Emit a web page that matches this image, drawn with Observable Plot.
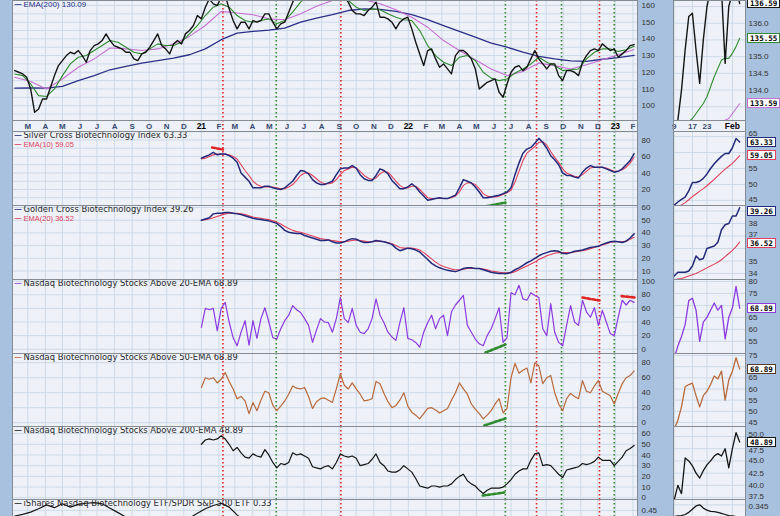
<!DOCTYPE html>
<html><head><meta charset="utf-8">
<script src="https://cdn.jsdelivr.net/npm/d3@7"></script>
<script src="https://cdn.jsdelivr.net/npm/@observablehq/plot@0.6"></script>
<style>
html,body{margin:0;padding:0;background:#a7c1de;}
#chart{position:relative;width:780px;height:516px;overflow:hidden;background:#a7c1de;}
#chart svg{position:absolute;overflow:visible;}
.badge{position:absolute;left:747px;height:8px;line-height:8px;padding:0 2px;background:#fff;border:1px solid #000;font:bold 7.6px "DejaVu Sans Mono",monospace;color:#000;white-space:nowrap;}
</style></head><body><div id="chart"></div>
<script>
// ---------- DATA ----------
const priceStart = "2020-02-07"; // weekly closes
const priceWeekly = [121,120,119,117,110,96,98,104,104,111,
118,124,127,130,132,131,133,130,126,133,
136,137,139,143,139,136,135,134,132,132,
128,127,131,132,135,139,143,136,134,131,
137,139,137,143,145,148,154,152,159,164,
161,160,165,166,158,151,146,150,150,146,
151,150,151,155,155,150,146,149,150,156,
162,166,168,167,170,168,171,170,172,168,
170,166,164,165,162,157,155,155,154,157,
159,162,153,153,152,150,146,150,152,153,
146,138,131,124,133,134,128,123,125,122,
119,130,133,133,131,128,122,110,112,114,
115,116,108,105,113,120,123,124,121,123,
128,133,128,125,122,125,125,118,115,121,
121,120,118,126,130,133,134,133,137,135,
133,134,129,131,133,136,136.6];
const ema20Biweekly = [119,118,113,106,105.5,110,118,125,129,130,
133,136,139,138,135,132,131,134,137,136,
136,138,143,148,154,159,161,159,154,151,
150,151,152,149,151,156,162,166,168,169,
168,166,163,159,157,158,157.5,155,153,151.5,
151,145,136,130,126,124,129,130,127,120,
116.5,115,116,119.5,122,125,129,126,124,121,
121.5,122,128,132,134,134,132.5,133.5,135.55];
const ema50Every4w = [117,114.5,110,116,123,128,134.5,134,133,134,
137,141.5,148,156.5,155.5,154.5,152,151.5,155,159.5,
163,165,163.5,161,157.5,153,147,139,133,127.5,
122,118,120.5,125.5,124,122,124.5,127.5,130.5,133.59];
const ema200Every4w = [110.5,110.7,110.5,111.5,115,118,121.5,123.5,125.5,127,
128.5,130.5,134,139.5,143.5,144.5,145.2,146.5,150,152.5,
154.5,157,158,157.7,156.5,154.5,151.5,148,144.5,141,
137.5,135,132,129.5,128,126.8,126.5,127.8,128.8,130.09];
const ratioBiweekly = [0.44,0.443,0.447,0.453,0.46,0.455,0.462,0.456,0.461,0.463,
0.464,0.462,0.454,0.446,0.438,0.432,0.428,0.43,0.434,0.432,
0.43,0.431,0.436,0.445,0.453,0.459,0.463,0.456,0.442,0.43,
0.425,0.42,0.418,0.42,0.415,0.41,0.412,0.415,0.41,0.405,
0.4,0.398,0.395,0.39,0.385,0.375,0.37,0.365,0.36,0.355,
0.35,0.345,0.34,0.335,0.33,0.328,0.33,0.335,0.34,0.345,
0.35,0.355,0.355,0.35,0.345,0.345,0.35,0.345,0.34,0.34,
0.345,0.35,0.35,0.345,0.342,0.34,0.335,0.332,0.33];

const indStart = "2021-01-01"; // weekly breadth / cross indexes
const silverCross = [58,60,62,65,62,63,63,61,58,53,
40,35,30,22,22,22,24,24,22,21,
20,22,26,30,37,43,42,39,32,28,
26,26,28,30,38,45,46,46,49,46,
38,33,31,31,37,45,43,39,31,26,
21,21,23,27,23,17,12,7,8,9,
10,9,9,11,13,22,32,30,28,23,
17,10,10,11,12,13,15,17,22,38,
52,64,69,71,76,82,77,70,61,56,
50,40,37,37,35,34,41,46,49,47,
47,47,45,43,41,42,45,50,55,63.33];
const silverEma10 = [57,58,60,62,63,63,63,62,60,57,
50,43,37,30,26,24,23,23,23,22,
21,21,23,26,31,37,40,40,37,33,
29,27,27,28,32,38,43,45,47,46,
42,37,34,32,34,39,42,41,36,30,
25,22,22,24,24,20,15,10,9,9,
9,9,9,10,12,17,25,28,28,26,
21,15,12,11,11,12,14,16,19,29,
42,55,64,68,72,77,78,74,66,59,
53,45,40,38,36,35,38,42,46,47,
47,47,46,44,42,42,44,47,52,59.05];
const goldenCross = [50,51,52,55,55.5,55.5,56,56,55.5,55,
54.5,53.5,52.5,51.5,51,50.5,50,49.5,48.5,47.5,
45,42,40.5,40,39.5,39.5,38,37,36,35,
34,34,34.5,33,32,32,33,34.5,35.5,35,
33.5,32.5,32.5,33,34,33.5,33,32,31,28,
26,27,28,27.5,26.5,25,22,19,16,14,
12.5,11.5,10.5,10,9.5,10.5,12,12.5,12.5,12,
12,11,10,9,8.5,8,8,8,9,11,
12.5,14.5,16.5,18,20,22,23.5,24.5,25.5,26,
25.5,24,23.5,24.5,25.5,26,26.5,27.5,28.5,29,
29.5,31,32,33,33.5,33,32.5,33.5,36,39.26];
const goldenEma20 = [50,50.5,51,52,53,54,55,55.5,55.5,55.5,
55,54.5,53.5,52.5,52,51.5,51,50.5,49.5,48.5,
47,45,43.5,42,41,40.5,39.5,38.5,37.5,36.5,
35.5,35,34.5,34,33.5,33,33,33.5,34,34.5,
34,33.5,33,33,33.5,33.5,33,32.5,31.5,30,
28.5,28,28,28,27.5,26.5,24.5,22,19.5,17,
15,13.5,12.5,11.5,11,11,11.5,12,12,12,
12,11.5,11,10,9.5,9,8.5,8.5,8.5,9.5,
11,12.5,14,15.5,17,19,20.5,22,23,24,
24.5,24.5,24.5,24.5,25,25.5,26,26.5,27.5,28.5,
29.5,30.5,31.5,32.5,33,33,33,33.5,35,36.52];
const above20 = [32,60,58,60,27,60,69,40,17,5,
25,42,6,42,16,45,61,40,17,15,
30,42,50,64,58,54,45,35,10,28,
45,40,39,25,45,76,45,39,60,35,
25,23,30,45,74,50,39,25,18,13,
39,61,16,14,10,3,25,39,50,30,
45,50,20,55,65,72,79,35,25,15,
8,5,20,30,45,61,10,17,83,80,
94,74,72,83,79,76,30,20,67,25,
10,5,35,64,40,35,72,55,47,61,
35,57,40,23,20,47,72,65,72,68.89];
const above50 = [47,60,58,60,53,58,67,55,45,32,
35,29,12,27,16,30,42,40,23,16,
22,29,38,49,46,45,47,35,19,28,
32,33,30,27,45,65,50,45,53,45,
38,29,30,32,55,52,39,28,20,23,
30,40,22,14,10,5,12,19,20,17,
13,16,19,30,40,53,45,38,25,18,
12,5,10,16,25,32,13,19,60,79,
66,70,73,53,80,76,52,60,63,40,
25,16,32,39,35,32,56,42,40,49,
56,42,39,36,25,39,52,60,63,68.89];
const above200 = [50,54,55,54,55,58,55,50,44,47,
42,38,37,41,39,38,45,40,33,28,
32,31,33,42,40,41,39,37,29,28,
27,29,30,27,33,41,39,38,39,37,
30,31,32,36,41,33,30,25,24,24,
26,30,27,24,18,11,10,9,11,11,
10,11,11,13,17,20,22,16,13,11,
7,4,7,9,9,9,10,13,17,22,
25,27,27,35,41,42,30,31,30,26,
22,19,26,27,28,29,32,31,32,34,
38,35,35,35,30,34,38,44,46,48.89];

// signal lines and hand-drawn divergence marks
const redSignals = ["2021-02-08","2021-09-04","2022-08-15","2022-12-04"];
const greenSignals = ["2021-05-13","2022-06-21","2022-09-28","2022-12-30"];
const silverRedDash = {dates:["2021-01-20","2021-02-08"], values:[70.9,68.5]};
const silverGreenDash = {dates:["2022-05-17","2022-06-21"], values:[-0.5,4.2]};
const a20GreenDash = {dates:["2022-05-17","2022-06-21"], values:[-4.9,6.9]};
const a20RedDash1 = {dates:["2022-11-04","2022-12-04"], values:[76,71.6]};
const a20RedDash2 = {dates:["2023-01-12","2023-02-05"], values:[78,76]};
const a50GreenDash = {dates:["2022-05-15","2022-06-21"], values:[-3.7,5.6]};
const a200GreenDash = {dates:["2022-05-12","2022-06-19"], values:[2.1,4.9]};

// mini (last 19 sessions) panels
const miniDays = ["2023-01-09","2023-01-10","2023-01-11","2023-01-12","2023-01-13","2023-01-17","2023-01-18","2023-01-19","2023-01-20","2023-01-23","2023-01-24","2023-01-25","2023-01-26","2023-01-27","2023-01-30","2023-01-31","2023-02-01","2023-02-02","2023-02-03"];
const miniTickIdx = [0,5,9,16];
const miniTickText = ["9","17","23","Feb"];
const miniPrice = [132.9,133.1,134.0,135.2,136.2,136.3,135.2,134.2,135.5,136.5,137.0,137.3,137.1,137.0,134.8,136.5,136.9,137.1,136.59];
const miniEma20 = [132.5,132.6,132.75,132.9,133.05,133.15,133.3,133.45,133.6,133.8,134.1,134.4,134.65,134.9,134.95,134.95,135.1,135.3,135.55];
const miniEma50 = [132.3,132.35,132.4,132.5,132.6,132.65,132.7,132.75,132.8,132.85,132.9,132.95,133.0,133.05,133.1,133.15,133.3,133.45,133.59];
const miniSilver = [43.5,44.5,45.3,46,48,50.6,50.6,51,51.9,53.3,55,56.5,57.7,58.8,59.7,59.7,61.5,64.4,63.33];
const miniSilverEma = [42.5,43.0,43.6,44.3,45.2,46.2,47,47.9,48.7,49.6,50.6,51.6,52.7,53.8,54.8,55.7,56.6,57.8,59.05];
const miniGolden = [33.8,34.1,34.1,34.1,34.2,34.6,35.4,35.1,35.2,36.0,36.1,36.2,36.5,37.5,37.9,38.0,38.6,38.6,39.26];
const miniGoldenEma = [33.5,33.55,33.6,33.7,33.8,33.9,34.0,34.15,34.3,34.45,34.6,34.75,34.9,35.1,35.35,35.6,35.85,36.15,36.52];
const miniAbove20 = [48,53,57,62,72,73,68,55,63,65,68,71,68,70,56,65,69,78,68.89];
const miniAbove50 = [42,46,52,61,62,62.6,57,52,57,59,62,65.8,64.5,68,55,64,68,74,68.89];
const miniAbove200 = [37,40,38.3,45.6,45,44,42.5,41.5,43,44.2,45,46,46.5,46,47.5,43.6,47.5,50.8,48.89];
const miniRatio = [0.3395,0.3398,0.34,0.3405,0.3415,0.343,0.3445,0.345,0.3435,0.3425,0.342,0.3418,0.3415,0.341,0.3405,0.34,0.3398,0.3395,0.339];

// tick labels of the mini panels (the others sit under the value badges);
// labels squeezed next to a badge are listed with a small vertical nudge
const mini1Grid = [133.5,134,134.5,135,135.5,136,136.5], mini1Labels = [134,134.5,135,136];
const mini2Grid = [45,50,55,60,65], mini2Labels = [50,55], mini2Nudged = [[65,-3],[45,-1]];
const mini3Grid = [34,35,36,37,38,39], mini3Labels = [34,35,38], mini3Nudged = [[37,-1.5]];
const mini4Grid = [55,60,65,70,75,80], mini4Labels = [55,60,65,75,80];
const mini5Grid = [45,50,55,60,65,70,75], mini5Labels = [45,50,55,60,65,75];
const mini6Grid = [37.5,40,42.5,45,47.5,50], mini6Labels = [40,42.5,45], mini6Nudged = [[50,-2.5],[47.5,2],[37.5,-1.5]];
const mini7Nudged = [[0.345,1.5]];

const monthLetters = ["J","F","M","A","M","J","J","A","S","O","N","D"];

// ---------- DRAWING ----------
const BG = "#eef2f8", GRID = "#cdd9e8", FRAME = "#858b93";
const C = {price:"#151515", ema20:"#2f8a2f", ema50:"#c76fd4", ema200:"#2b2f86",
  navy:"#24297a", red:"#e0405c", a20:"#8b3be0", a50:"#b8693a", a200:"#151515",
  sigRed:"#e02424", sigGreen:"#2f8a2f"};
const root = document.getElementById("chart");
const xMain = {type:"utc", domain:[new Date("2020-02-03"), new Date("2023-02-09")]};
const xMini = {type:"linear", domain:[-0.2, 19.6]};
const monthTicks = d3.utcMonth.range(new Date("2020-03-01"), new Date("2023-02-09"));
const baseStyle = {fontFamily:"Liberation Sans, Arial, sans-serif", fontSize:"8px", background:"transparent", color:"#333", overflow:"visible"};

function series(start, stepDays, values) {
  const t0 = Date.parse(start);
  return values.map((v, i) => ({date: new Date(t0 + i * stepDays * 864e5), v}));
}
function dash(obj) { return obj.dates.map((d, i) => ({date: new Date(d), v: obj.values[i]})); }
function mini(values) { return values.map((v, i) => ({i, v})); }
function place(svg, left, top) { svg.style.left = left + "px"; svg.style.top = top + "px"; root.appendChild(svg); return svg; }

const signalMarks = () => [
  Plot.ruleX(redSignals, {x: d => new Date(d), stroke: C.sigRed, strokeWidth: 1.6, strokeDasharray: "1.4,2.6"}),
  Plot.ruleX(greenSignals, {x: d => new Date(d), stroke: C.sigGreen, strokeWidth: 1.6, strokeDasharray: "1.4,2.6"})
];
const line = (data, stroke, w = 1.1, x = "date") => Plot.line(data, {x, y: "v", stroke, strokeWidth: w, clip: true});
const dashLine = (obj, stroke) => Plot.line(dash(obj), {x: "date", y: "v", stroke, strokeWidth: 2.6, strokeDasharray: "3,2", clip: true});
function legend(lines) {
  const out = [];
  for (const l of lines) {
    out.push(Plot.text([l.text], {frameAnchor: "top-left", dx: 11, dy: l.dy, text: d => d, fill: l.textColor || l.color, fontFamily: l.font || "DejaVu Sans", fontSize: l.size || 8.4, textAnchor: "start"}));
    out.push(Plot.text(["—"], {frameAnchor: "top-left", dx: 2, dy: l.dy, text: d => d, fill: l.color, fontWeight: "bold", fontSize: 7, textAnchor: "start"}));
  }
  return out;
}

function mainPanel({top, height, domain, ticks, grid, fmt, marks}) {
  const chart = Plot.plot({
    width: 648, height, marginLeft: 0, marginRight: 23, marginTop: 0, marginBottom: 0,
    style: baseStyle,
    x: {...xMain, axis: null},
    y: {domain, axis: null},
    marks: [
      Plot.frame({fill: BG}),
      Plot.gridX(monthTicks, {stroke: GRID, strokeOpacity: 1}),
      Plot.gridY(grid, {stroke: GRID, strokeOpacity: 1}),
      ...signalMarks(),
      ...marks,
      Plot.axisY(ticks, {anchor: "right", label: null, tickSize: 0, tickPadding: 4, tickFormat: fmt, fill: "#333"}),
      Plot.frame({stroke: FRAME})
    ]
  });
  return place(chart, 12, top);
}
function miniPanel({top, height, domain, grid, labels, nudged = [], fmt, marks}) {
  const chart = Plot.plot({
    width: 107, height, marginLeft: 0, marginRight: 35, marginTop: 0, marginBottom: 0,
    style: baseStyle,
    x: {...xMini, axis: null},
    y: {domain, axis: null},
    marks: [
      Plot.frame({fill: BG}),
      Plot.gridX(miniTickIdx, {stroke: GRID, strokeOpacity: 1}),
      Plot.gridY(grid, {stroke: GRID, strokeOpacity: 1}),
      ...marks,
      Plot.axisY(labels, {anchor: "right", label: null, tickSize: 0, tickPadding: 3, tickFormat: fmt, fill: "#333"}),
      ...nudged.map(([v, dy]) => Plot.axisY([v], {anchor: "right", label: null, tickSize: 0, tickPadding: 3, tickFormat: fmt, fill: "#333", dy})),
      Plot.frame({stroke: FRAME})
    ]
  });
  return place(chart, 673, top);
}
function badge(chart, top, value, color, nudge = 0) {
  const y = top + chart.scale("y").apply(value) + nudge;
  const b = document.createElement("div");
  b.className = "badge";
  b.style.top = (y - 5) + "px";
  b.style.borderColor = color;
  b.textContent = value.toFixed(2);
  root.appendChild(b);
}
const last = a => a[a.length - 1];

// Panel 1: price
mainPanel({top: 0, height: 120, domain: [91.1, 163],
  ticks: [100,110,120,130,140,150,160], grid: [95,100,105,110,115,120,125,130,135,140,145,150,155,160],
  marks: [
    line(series(priceStart, 28, ema200Every4w), C.ema200, 1.3),
    line(series(priceStart, 28, ema50Every4w), C.ema50, 1.1),
    line(series(priceStart, 14, ema20Biweekly), C.ema20, 1.1),
    line(series(priceStart, 7, priceWeekly), C.price, 1.4),
    ...legend([{text: `EMA(200) ${last(ema200Every4w).toFixed(2)}`, color: C.ema200, font: "Liberation Sans", size: 8, dy: 1}])
  ]});
// month strip
place(Plot.plot({
  width: 648, height: 11, marginLeft: 0, marginRight: 23, marginTop: 0, marginBottom: 0,
  style: baseStyle, x: {...xMain, axis: null}, y: {axis: null},
  marks: [
    Plot.frame({fill: BG}),
    Plot.gridX(monthTicks, {stroke: GRID, strokeOpacity: 1}),
    ...signalMarks(),
    Plot.text(monthTicks.filter(d => d.getUTCMonth() !== 0), {x: d => d, frameAnchor: "middle", text: d => monthLetters[d.getUTCMonth()], fill: "#3a4a70", fontWeight: "bold", fontSize: 8}),
    Plot.text(monthTicks.filter(d => d.getUTCMonth() === 0), {x: d => d, frameAnchor: "middle", text: d => String(d.getUTCFullYear()).slice(2), fill: "#000", fontWeight: "bold", fontSize: 8.5}),
    Plot.frame({stroke: FRAME})
  ]}), 12, 120);

// Panel 2: Silver Cross
mainPanel({top: 131, height: 74, domain: [0.6, 90.3], ticks: [20,40,60,80], grid: [10,20,30,40,50,60,70,80,90],
  marks: [
    line(series(indStart, 7, silverEma10), C.red, 1.1),
    line(series(indStart, 7, silverCross), C.navy, 1.5),
    dashLine(silverRedDash, C.sigRed), dashLine(silverGreenDash, C.sigGreen),
    ...legend([{text: `Silver Cross Biotechnology Index ${last(silverCross).toFixed(2)}`, color: C.navy, textColor: "#2a2a2a", dy: 1},
               {text: `EMA(10) ${last(silverEma10).toFixed(2)}`, color: C.red, font: "Liberation Sans", size: 7.5, dy: 10}])
  ]});
// Panel 3: Golden Cross
mainPanel({top: 205, height: 74, domain: [3.3, 61.6], ticks: [10,20,30,40,50,60], grid: [10,20,30,40,50,60],
  marks: [
    line(series(indStart, 7, goldenEma20), C.red, 1.1),
    line(series(indStart, 7, goldenCross), C.navy, 1.5),
    ...legend([{text: `Golden Cross Biotechnology Index ${last(goldenCross).toFixed(2)}`, color: C.navy, textColor: "#2a2a2a", dy: 1},
               {text: `EMA(20) ${last(goldenEma20).toFixed(2)}`, color: C.red, font: "Liberation Sans", size: 7.5, dy: 10}])
  ]});
// Panel 4: above 20-EMA
mainPanel({top: 279, height: 74, domain: [-6.3, 102.5], ticks: [0,20,40,60,80,100], grid: [0,20,40,60,80,100],
  marks: [
    line(series(indStart, 7, above20), C.a20, 1.2),
    dashLine(a20GreenDash, C.sigGreen), dashLine(a20RedDash1, C.sigRed), dashLine(a20RedDash2, C.sigRed),
    ...legend([{text: `Nasdaq Biotechnology Stocks Above 20-EMA ${last(above20).toFixed(2)}`, color: C.a20, textColor: "#2a2a2a", dy: 1}])
  ]});
// Panel 5: above 50-EMA
mainPanel({top: 353, height: 73, domain: [-5.1, 92.3], ticks: [0,20,40,60,80], grid: [0,20,40,60,80],
  marks: [
    line(series(indStart, 7, above50), C.a50, 1.2),
    dashLine(a50GreenDash, C.sigGreen),
    ...legend([{text: `Nasdaq Biotechnology Stocks Above 50-EMA ${last(above50).toFixed(2)}`, color: C.a50, textColor: "#2a2a2a", dy: 1}])
  ]});
// Panel 6: above 200-EMA
mainPanel({top: 426, height: 73, domain: [-1.6, 66.6], ticks: [0,10,20,30,40,50,60], grid: [0,10,20,30,40,50,60],
  marks: [
    line(series(indStart, 7, above200), C.a200, 1.2),
    dashLine(a200GreenDash, C.sigGreen),
    ...legend([{text: `Nasdaq Biotechnology Stocks Above 200-EMA ${last(above200).toFixed(2)}`, color: C.a200, textColor: "#2a2a2a", dy: 1}])
  ]});
// Panel 7: ratio
mainPanel({top: 499, height: 30, domain: [0.4155, 0.4698], ticks: [0.45], grid: [0.45], fmt: d => d.toFixed(2),
  marks: [
    line(series(priceStart, 14, ratioBiweekly), "#151515", 1.2),
    ...legend([{text: `iShares Nasdaq Biotechnology ETF/SPDR S&P 500 ETF ${last(ratioBiweekly).toFixed(2)}`, color: "#151515", textColor: "#2a2a2a", dy: 1}])
  ]});

// ---------- mini panels ----------
const m1 = miniPanel({top: 0, height: 120, domain: [133.09, 136.68], grid: mini1Grid, labels: mini1Labels, fmt: d => d.toFixed(1),
  marks: [line(mini(miniEma50), C.ema50, 1.1, "i"), line(mini(miniEma20), C.ema20, 1.1, "i"), line(mini(miniPrice), C.price, 1.4, "i")]});
place(Plot.plot({
  width: 107, height: 11, marginLeft: 0, marginRight: 35, marginTop: 0, marginBottom: 0,
  style: baseStyle, x: {...xMini, axis: null}, y: {axis: null},
  marks: [
    Plot.frame({fill: BG}),
    Plot.text(miniTickIdx.slice(0, 3), {x: d => d, frameAnchor: "middle", text: (d, i) => miniTickText[i], fill: "#3a4a70", fontWeight: "bold", fontSize: 8}),
    Plot.text([miniTickIdx[3]], {x: d => d, frameAnchor: "middle", text: () => miniTickText[3], fill: "#000", fontWeight: "bold", fontSize: 8.5}),
    Plot.frame({stroke: FRAME})
  ]}), 673, 120);
const m2 = miniPanel({top: 131, height: 74, domain: [43.4, 66.6], grid: mini2Grid, labels: mini2Labels, nudged: mini2Nudged,
  marks: [line(mini(miniSilverEma), C.red, 1.1, "i"), line(mini(miniSilver), C.navy, 1.5, "i")]});
const m3 = miniPanel({top: 205, height: 74, domain: [33.52, 39.44], grid: mini3Grid, labels: mini3Labels, nudged: mini3Nudged,
  marks: [line(mini(miniGoldenEma), C.red, 1.1, "i"), line(mini(miniGolden), C.navy, 1.5, "i")]});
const m4 = miniPanel({top: 279, height: 74, domain: [49.9, 80.85], grid: mini4Grid, labels: mini4Labels,
  marks: [line(mini(miniAbove20), C.a20, 1.3, "i")]});
const m5 = miniPanel({top: 353, height: 73, domain: [43.2, 75.9], grid: mini5Grid, labels: mini5Labels,
  marks: [line(mini(miniAbove50), C.a50, 1.3, "i")]});
const m6 = miniPanel({top: 426, height: 73, domain: [37.1, 52.05], grid: mini6Grid, labels: mini6Labels, nudged: mini6Nudged, fmt: d => d.toFixed(1),
  marks: [line(mini(miniAbove200), C.a200, 1.3, "i")]});
miniPanel({top: 499, height: 30, domain: [0.3335, 0.3475], grid: [0.345], labels: [], nudged: mini7Nudged, fmt: d => d.toFixed(3),
  marks: [line(mini(miniRatio), "#151515", 1.3, "i")]});

// value badges
badge(m1, 0, last(miniPrice), "#151515");
badge(m1, 0, last(miniEma20), C.ema20);
badge(m1, 0, last(miniEma50), C.ema50);
badge(m2, 131, last(miniSilver), C.navy, 0.5);
badge(m2, 131, last(miniSilverEma), C.red);
badge(m3, 205, last(miniGolden), C.navy, 3.5);
badge(m3, 205, last(miniGoldenEma), C.red, 1.5);
badge(m4, 279, last(miniAbove20), C.a20);
badge(m5, 353, last(miniAbove50), "#5a3a2a");
badge(m6, 426, last(miniAbove200), "#151515", 0.5);
</script></body></html>
